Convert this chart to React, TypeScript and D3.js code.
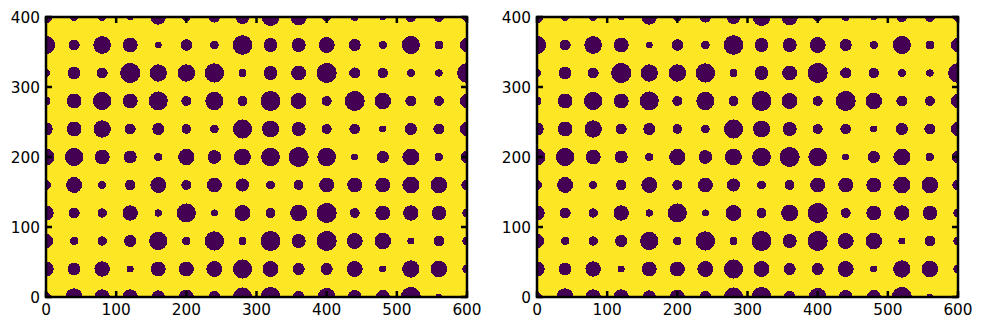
import React from "react";
import * as d3 from "d3";

const gridX = [0, 40, 80, 120, 160, 200, 240, 280, 320, 360, 400, 440, 480, 520, 560, 600];
const gridY = [0, 40, 80, 120, 160, 200, 240, 280, 320, 360, 400];

// radius (data units) of each blob, one array per row, listed from y=0 up to y=400
const radiiRows = [
  [7, 12.4, 11, 11, 9.5, 10.7, 8.6, 13.6, 14.3, 8.6, 12.9, 10, 10, 14.3, 4.8, 3],
  [11, 9.3, 11, 5, 10.7, 10.7, 11.4, 13.6, 11.4, 8.6, 8.6, 11.4, 5, 12.4, 11.9, 6.7],
  [10, 6.2, 6.7, 8.6, 13, 6, 13.8, 5.7, 14.3, 10, 14.3, 11.4, 11.7, 5, 7.6, 6.7],
  [11, 7.9, 6.7, 11, 5.2, 13.6, 5, 11.4, 7.1, 12.1, 14.3, 7.1, 10.7, 11, 10.5, 6.7],
  [7, 11.4, 5.7, 7.6, 11.4, 7.1, 10.7, 9.3, 6.4, 7.1, 10.7, 10.7, 10.7, 12.1, 11.9, 8],
  [12, 13, 10.7, 9.3, 5.7, 11.7, 9.8, 12.1, 13.3, 14.3, 13.3, 5, 8.6, 12.1, 6.2, 9],
  [9.5, 10.7, 12.4, 7.9, 8.6, 6.9, 6.2, 13.6, 12.1, 10, 7.1, 7.6, 5, 8.6, 7.9, 10],
  [6.5, 10.7, 13, 10.7, 13.6, 7.1, 13, 7.1, 14.3, 11.4, 7.1, 14.3, 11.7, 7.9, 7.1, 10],
  [5.5, 9.3, 7.9, 14.3, 12.4, 12.4, 13.8, 5.7, 10, 10.7, 14.3, 7.9, 7.4, 6, 5.2, 14],
  [13, 7.9, 12.6, 10.7, 4.8, 8.3, 6.2, 14, 10, 10, 11.4, 8.6, 5.7, 12.9, 6.4, 10],
  [9, 5.7, 5.5, 4.8, 11, 6, 8, 10, 12.9, 11.9, 6.4, 5.7, 4.8, 7.4, 7.1, 7],
];

const xTicks = [0, 100, 200, 300, 400, 500, 600];
const yTicks = [0, 100, 200, 300, 400];
const panelLefts = [46, 537];

const W = 983;
const H = 330;
const PW = 421;
const TOP = 17;
const BOTTOM = 297;
const BG = "#fde725";
const FG = "#440154";

function Panel({ left, id }: { left: number; id: string }) {
  const x = d3.scaleLinear().domain([0, 600]).range([left, left + PW]);
  const y = d3.scaleLinear().domain([0, 400]).range([BOTTOM, TOP]);
  const k = PW / 600;
  const blobs: { cx: number; cy: number; r: number }[] = [];
  radiiRows.forEach((row, i) =>
    row.forEach((r, j) => blobs.push({ cx: x(gridX[j]), cy: y(gridY[i]), r: r * k }))
  );
  const tl = 6;
  return (
    <g>
      <defs>
        <clipPath id={id}>
          <rect x={left} y={TOP} width={PW} height={BOTTOM - TOP} />
        </clipPath>
      </defs>
      <rect x={left} y={TOP} width={PW} height={BOTTOM - TOP} fill={BG} />
      <g clipPath={`url(#${id})`}>
        {blobs.map((b, i) => (
          <circle key={i} cx={b.cx} cy={b.cy} r={b.r} fill={FG} shapeRendering="crispEdges" />
        ))}
      </g>
      {xTicks.map((t) => (
        <g key={"x" + t}>
          <line x1={x(t)} x2={x(t)} y1={BOTTOM} y2={BOTTOM - tl} stroke="#000" strokeWidth={2.5} />
          <line x1={x(t)} x2={x(t)} y1={TOP} y2={TOP + tl} stroke="#000" strokeWidth={2.5} />
          <text x={x(t)} y={BOTTOM + 18} textAnchor="middle" fontFamily="DejaVu Sans" fontSize={15.3} fill="#000">
            {t}
          </text>
        </g>
      ))}
      {yTicks.map((t) => (
        <g key={"y" + t}>
          <line x1={left} x2={left + tl} y1={y(t)} y2={y(t)} stroke="#000" strokeWidth={2.5} />
          <line x1={left + PW} x2={left + PW - tl} y1={y(t)} y2={y(t)} stroke="#000" strokeWidth={2.5} />
          <text x={left - 6} y={y(t)} dy="0.36em" textAnchor="end" fontFamily="DejaVu Sans" fontSize={15.3} fill="#000">
            {t}
          </text>
        </g>
      ))}
      <rect x={left} y={TOP} width={PW} height={BOTTOM - TOP} fill="none" stroke="#000" strokeWidth={2.5} />
    </g>
  );
}

export default function App() {
  return (
    <svg width={W} height={H} style={{ position: "absolute", left: 0, top: 0, background: "#fff" }}>
      {panelLefts.map((l, i) => (
        <Panel key={i} left={l} id={"clip" + i} />
      ))}
    </svg>
  );
}
